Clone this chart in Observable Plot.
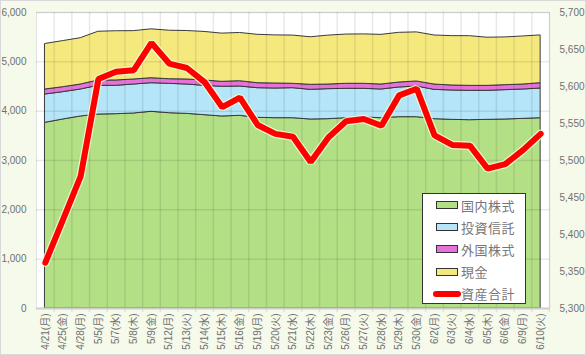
<!DOCTYPE html>
<html>
<head>
<meta charset="utf-8">
<script src="https://cdn.jsdelivr.net/npm/d3@7"></script>
<script src="https://cdn.jsdelivr.net/npm/@observablehq/plot@0.6"></script>
<style>
  html, body { margin: 0; padding: 0; background: #f5faeb; }
  #wrap { position: relative; width: 586px; height: 355px; background: #f5faeb; overflow: hidden; }
  #border { position: absolute; left: 0; top: 0; width: 586px; height: 355px; box-sizing: border-box; border: 1px solid #d9d9d9; pointer-events: none; }
  #legend { position: absolute; left: 422px; top: 193px; width: 104px; height: 111px; box-sizing: border-box;
            border: 1.5px solid #333; background: #fff; font-family: "Noto Sans CJK JP", sans-serif; font-size: 13px; color: #777; }
  .row { position: absolute; left: 0; height: 20px; display: flex; align-items: center; }
  .sw { position: absolute; left: 13px; width: 20px; height: 6px; border: 1.5px solid #333; }
  .ln { position: absolute; left: 10px; width: 28px; height: 6px; border-radius: 3px; background: #ff0000; }
  .lab { position: absolute; left: 38px; white-space: nowrap; letter-spacing: 0.5px; }
</style>
</head>
<body>
<div id="wrap"><div id="chart"></div><div id="legend"></div><div id="border"></div></div>
<script>
const categories = ["4/21(月)","4/25(金)","4/28(月)","5/5(月)","5/7(水)","5/8(木)","5/9(金)","5/12(月)","5/13(火)","5/14(水)","5/15(木)","5/16(金)","5/19(月)","5/20(火)","5/21(水)","5/22(木)","5/23(金)","5/26(月)","5/27(火)","5/28(水)","5/29(木)","5/30(金)","6/2(月)","6/3(火)","6/4(水)","6/5(木)","6/6(金)","6/9(月)","6/10(火)"];
const seriesNames = ["国内株式", "投資信託", "外国株式", "現金"];
const totalName = "資産合計";
const domestic = [3764,3831,3892,3932,3939,3953,3987,3959,3946,3919,3892,3906,3865,3858,3858,3831,3838,3858,3871,3858,3878,3878,3838,3824,3817,3824,3831,3844,3858];
const funds    = [574,554,547,582,575,587,580,595,594,595,602,594,601,601,608,601,608,595,582,581,602,622,594,595,595,588,595,595,601];
const foreign  = [101,101,101,108,108,102,101,94,102,108,101,108,101,102,89,102,94,102,102,101,101,102,108,101,101,101,101,101,108];
const cash     = [923,934,939,988,998,980,991,983,983,984,977,977,981,975,977,964,991,998,1001,1007,1007,995,994,1001,1007,976,968,974,969];
const total    = [5362,5420,5479,5610,5620,5622,5659,5631,5625,5606,5572,5585,5548,5536,5532,5498,5531,5553,5556,5547,5588,5597,5534,5521,5520,5489,5495,5514,5536];
const leftTicks = [0,1000,2000,3000,4000,5000,6000];
const rightTicks = [5300,5350,5400,5450,5500,5550,5600,5650,5700];
const colors = ["#b3df85", "#b5e5f8", "#e472d8", "#f5e97e"];
const totalColor = "#ff0000";

// right axis [5300,5700] mapped onto left domain [0,6000]
const rMin = 5300, rMax = 5700, lMax = 6000;
const toLeft = v => (v - rMin) / (rMax - rMin) * lMax;
const fromLeft = v => v / lMax * (rMax - rMin) + rMin;

const seriesValues = [domestic, funds, foreign, cash];
const table = [];
seriesNames.forEach((s, k) => categories.forEach((c, i) => table.push({date: c, series: s, value: seriesValues[k][i]})));
const totals = categories.map((c, i) => ({date: c, value: total[i]}));

const W = 586, H = 355, ml = 36, mr = 37, mt = 12, mb = 47;
const step = (W - ml - mr) / categories.length;
const fontFamily = "'Liberation Sans', 'Noto Sans CJK JP', sans-serif";

const chart = Plot.plot({
  width: W, height: H,
  marginLeft: ml, marginRight: mr, marginTop: mt, marginBottom: mb,
  style: {background: "transparent", fontFamily, fontSize: "10px", color: "#707070"},
  x: {type: "point", domain: categories, padding: 0.5, round: false, range: [ml, W - mr]},
  y: {domain: [0, lMax], range: [H - mb, mt]},
  color: {domain: seriesNames, range: colors},
  marks: [
    Plot.frame({fill: "white", stroke: "#e2e2e2"}),
    Plot.areaY(table, {x: "date", y: "value", fill: "series", order: seriesNames, stroke: "#3a3a3a", strokeWidth: 1, curve: "linear"}),
    Plot.gridY(leftTicks, {stroke: "#000", strokeOpacity: 0.09, strokeWidth: 1.5}),
    Plot.ruleX(categories, {dx: step / 2, stroke: "#000", strokeOpacity: 0.09, strokeWidth: 1.5, insetBottom: -4}),
    Plot.ruleY([0], {stroke: "#cfcfcf", strokeWidth: 2}),
    Plot.lineY(totals, {x: "date", y: d => toLeft(d.value), stroke: "#e9ffd6", strokeWidth: 8.5, strokeOpacity: 0.85, strokeLinejoin: "miter"}),
    Plot.lineY(totals, {x: "date", y: d => toLeft(d.value), stroke: totalColor, strokeWidth: 6, strokeLinejoin: "miter"}),
    Plot.axisY(leftTicks, {anchor: "left", label: null, tickSize: 0, tickPadding: 10, tickFormat: d3.format(","), fill: "#707070"}),
    Plot.axisY(rightTicks.map(toLeft), {anchor: "right", label: null, tickSize: 0, tickPadding: 10, tickFormat: d => d3.format(",")(Math.round(fromLeft(d))), fill: "#707070"}),
    Plot.axisX(categories, {label: null, tickRotate: -90, tickSize: 0, tickPadding: 5, fill: "#707070"})
  ]
});
document.getElementById("chart").appendChild(chart);

// legend
const legend = document.getElementById("legend");
const names = [...seriesNames, totalName];
names.forEach((n, i) => {
  const row = document.createElement("div");
  row.className = "row";
  row.style.top = (1 + i * 22.2) + "px";
  row.style.width = "100px";
  const sw = document.createElement("div");
  if (i < seriesNames.length) { sw.className = "sw"; sw.style.background = colors[i]; }
  else { sw.className = "ln"; }
  const lab = document.createElement("div");
  lab.className = "lab";
  lab.textContent = n;
  row.appendChild(sw); row.appendChild(lab);
  legend.appendChild(row);
});
</script>
</body>
</html>
